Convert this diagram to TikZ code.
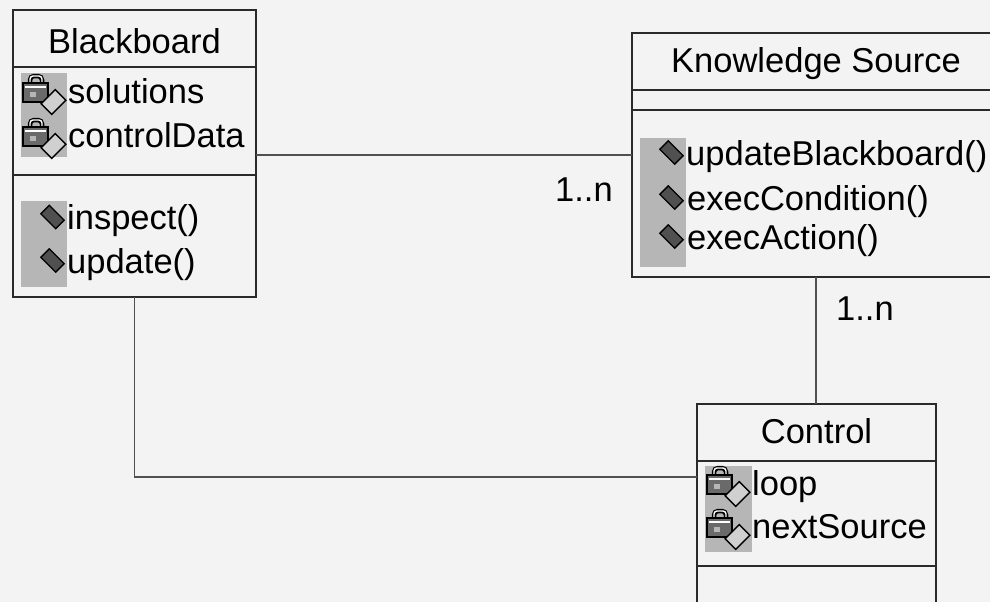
\documentclass[tikz,border=0pt]{standalone}
\usepackage{fontspec}
\setmainfont{Liberation Sans}
\definecolor{bgc}{HTML}{F3F3F3}
\definecolor{colc}{HTML}{B6B6B6}
\definecolor{lockc}{HTML}{6A6A6A}
\definecolor{diac}{HTML}{D0D0D0}
\definecolor{methc}{HTML}{505050}
\definecolor{linec}{HTML}{505050}
\definecolor{boxc}{HTML}{2A2A2A}
\newcommand\lockicon[2]{%
  \draw[black,line width=4.5pt,rounded corners=4pt] ({#1+9},{#2-17}) -- ({#1+9},{#2-27}) -- ({#1+21},{#2-27}) -- ({#1+21},{#2-17});
  \draw[white,line width=1.4pt,rounded corners=3pt] ({#1+9},{#2-18}) -- ({#1+9},{#2-27}) -- ({#1+21},{#2-27}) -- ({#1+21},{#2-18});
  \draw[black,fill=lockc,line width=1.2pt] ({#1+2},{#2-20}) rectangle ({#1+27},{#2-1});
  \draw[white,line width=1.5pt] ({#1+4},{#2-16}) -- ({#1+25},{#2-16});
  \fill[colc] ({#1+9},{#2-11}) rectangle ({#1+15},{#2-6});
  \draw[black,fill=diac,line width=1.3pt,rotate around={45:({#1+32.5},{#2-1})}] ({#1+22.5},{#2-8.5}) rectangle ({#1+42.5},{#2+6.5});
}
\newcommand\methicon[2]{%
  \draw[black,fill=methc,line width=1.3pt,rotate around={-45:({#1+31.5},{#2-12.5})}] ({#1+21},{#2-18.5}) rectangle ({#1+42},{#2-6.5});
}
\begin{document}
\begin{tikzpicture}[x=1pt,y=-1pt,
  classbox/.style={draw=boxc,line width=1.3pt,fill=bgc,anchor=north west,inner sep=0pt,outer sep=0pt},
  sep/.style={draw=boxc,line width=1.1pt},
  conn/.style={draw=linec,line width=1.1pt},
  txt/.style={anchor=base west,inner sep=0pt,font=\fontsize{34.5}{41}\selectfont},
  ttl/.style={anchor=base,inner sep=0pt,font=\fontsize{34.5}{41}\selectfont},
  gcol/.style={fill=colc}]
\useasboundingbox (0,0) rectangle (990,602);
\fill[bgc] (0,0) rectangle (990,602);
\clip (0,0) rectangle (990,602);

% Blackboard
\node[classbox,minimum width=243pt,minimum height=287pt] (bb) at (13,10) {};
\draw[sep] (13,67) -- (256,67);
\draw[sep] (13,175) -- (256,175);
\node[ttl] (bbt) at (134.5,53) {Blackboard};
\fill[gcol] (21,73) rectangle (67,157);
\fill[gcol] (21,201) rectangle (67,287);
\lockicon{21}{103}
\lockicon{21}{147}
\methicon{21}{229.5}
\methicon{21}{273}
\node[txt] (bba1) at (68,103) {solutions};
\node[txt] (bba2) at (68,147) {controlData};
\node[txt] (bbm1) at (67,229.5) {inspect()};
\node[txt] (bbm2) at (67,273) {update()};

% Knowledge Source
\node[classbox,minimum width=368pt,minimum height=244pt] (ks) at (632,33) {};
\draw[sep] (632,90) -- (1000,90);
\draw[sep] (632,110) -- (1000,110);
\node[ttl] (kst) at (816,73) {Knowledge Source};
\fill[gcol] (640,138) rectangle (686,267);
\methicon{640}{165}
\methicon{640}{210}
\methicon{640}{249}
\node[txt] (ksm1) at (686,165) {updateBlackboard()};
\node[txt] (ksm2) at (687,210) {execCondition()};
\node[txt] (ksm3) at (687,249) {execAction()};

% Control
\node[classbox,minimum width=239pt,minimum height=216pt] (ctrl) at (697,404) {};
\draw[sep] (697,461) -- (936,461);
\draw[sep] (697,566) -- (936,566);
\node[ttl] (ctt) at (816.5,443) {Control};
\fill[gcol] (705,466) rectangle (752,552);
\lockicon{705}{495}
\lockicon{705}{538}
\node[txt] (cta1) at (752,495) {loop};
\node[txt] (cta2) at (752,538) {nextSource};

% connectors
\draw[conn] (bb.east |- ks.west) -- (ks.west);
\coordinate (cin) at (697,477);
\draw[conn] (bb.south) |- (cin);
\draw[conn] (ks.south) -- (ks.south |- ctrl.north);
\node[txt] (l1) at (555,201) {1..n};
\node[txt] (l2) at (836,320) {1..n};
\end{tikzpicture}
\end{document}
